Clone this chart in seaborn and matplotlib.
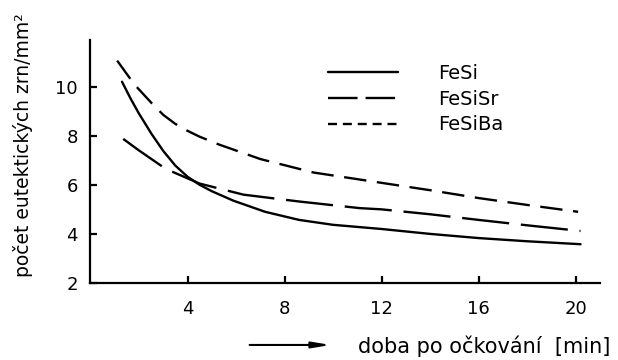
import pandas as pd
import seaborn as sns
import matplotlib.pyplot as plt

# curves
t_fesi = [1.3, 1.65, 2.0, 2.5, 3.0, 3.5, 4.0, 4.5, 5.0, 5.9, 7.2, 8.6, 10.0, 12.0, 14.0, 16.0, 18.0, 20.2]
n_fesi = [10.2, 9.52, 8.9, 8.1, 7.38, 6.78, 6.33, 6.0, 5.74, 5.35, 4.9, 4.57, 4.37, 4.2, 4.0, 3.83, 3.7, 3.58]

t_fesisr = [1.35, 2.0, 3.1, 4.5, 6.3, 8.6, 11.1, 12.0, 14.0, 16.0, 18.0, 20.2]
n_fesisr = [7.87, 7.4, 6.65, 6.05, 5.6, 5.32, 5.05, 5.0, 4.8, 4.57, 4.35, 4.12]

t_fesiba = [1.1, 1.8, 2.5, 3.0, 3.5, 4.0, 4.5, 5.3, 7.0, 9.2, 12.0, 14.0, 16.0, 18.0, 20.1]
n_fesiba = [11.06, 10.1, 9.35, 8.85, 8.48, 8.2, 7.96, 7.64, 7.05, 6.5, 6.08, 5.78, 5.46, 5.18, 4.9]

alloys = ["FeSi", "FeSiSr", "FeSiBa"]
x_ticks = [4, 8, 12, 16, 20]
y_ticks = [2, 4, 6, 8, 10]

df = pd.concat([
    pd.DataFrame({"t": t_fesi, "n": n_fesi, "alloy": "FeSi"}),
    pd.DataFrame({"t": t_fesisr, "n": n_fesisr, "alloy": "FeSiSr"}),
    pd.DataFrame({"t": t_fesiba, "n": n_fesiba, "alloy": "FeSiBa"}),
])

sns.set_theme(style="ticks")
plt.rcParams["font.family"] = ["DejaVu Sans"]
plt.rcParams["text.color"] = "black"
plt.rcParams["axes.labelcolor"] = "black"

fig = plt.figure(figsize=(6.18, 3.6), dpi=100)
ax = fig.add_axes([0.1464, 0.2139, 0.8244, 0.675])

dashes = {"FeSi": "", "FeSiSr": (20, 5), "FeSiBa": (9.5, 4.5)}
sns.lineplot(data=df, x="t", y="n", style="alloy", style_order=alloys,
             dashes=dashes, color="black", linewidth=1.7,
             sort=False, estimator=None, ax=ax)

ax.set_xlim(0, 21.0)
ax.set_ylim(2, 11.9)
ax.set_xticks(x_ticks)
ax.set_yticks(y_ticks)
sns.despine(ax=ax)
for s in ["left", "bottom"]:
    ax.spines[s].set_linewidth(1.6)
    ax.spines[s].set_color("black")
ax.tick_params(direction="in", length=5, width=1.6, colors="black", labelsize=13)
ax.tick_params(axis="x", pad=12)
ax.tick_params(axis="y", pad=9)

ax.set_ylabel("počet eutektických zrn/mm²", fontsize=13.5)
ax.yaxis.set_label_coords(-0.113, 0.568)

ax.set_xlabel("doba po očkování  [min]", fontsize=15, ha="left", va="center")
ax.xaxis.set_label_coords(0.525, -0.261)
ax.annotate("", xy=(0.477, -0.255), xytext=(0.307, -0.255), xycoords="axes fraction",
            arrowprops=dict(arrowstyle="-|>,head_length=0.9,head_width=0.15",
                            color="black", lw=1.5), annotation_clip=False)

# rebuild legend without a title, handles drawn like the reference
old = ax.get_legend()
handles = old.legend_handles
labels = [t.get_text() for t in old.texts]
old.remove()
leg = ax.legend(handles, labels, loc="upper left", bbox_to_anchor=(0.466, 0.902),
                frameon=False, fontsize=14, handlelength=3.6, handletextpad=2.05,
                labelspacing=0.35, borderpad=0, borderaxespad=0)
legend_dashes = [None, (12.5, 3.4), (3.8, 2.5)]
for line, d in zip(leg.get_lines(), legend_dashes):
    line.set_color("black")
    line.set_linewidth(1.7)
    if d is not None:
        line.set_dashes(d)

fig.savefig("out.png", dpi=100)
